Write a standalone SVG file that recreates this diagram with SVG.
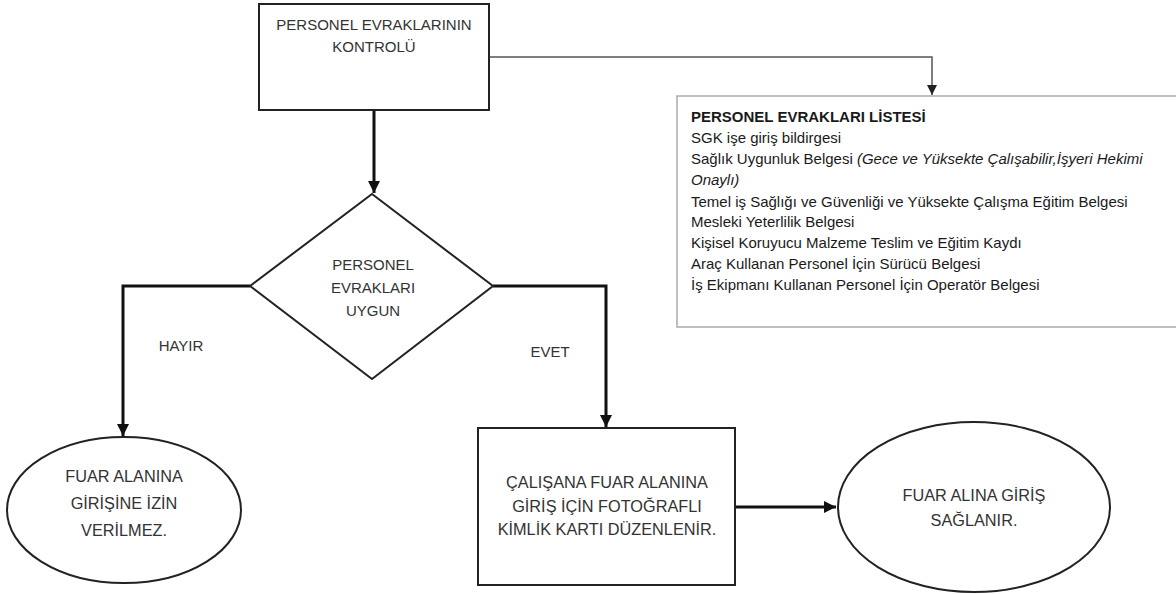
<svg xmlns="http://www.w3.org/2000/svg" width="1176" height="594" viewBox="0 0 1176 594">
<defs>
<marker id="ah" viewBox="0 0 10 10" refX="10" refY="5" markerWidth="4" markerHeight="4" orient="auto" markerUnits="strokeWidth"><path d="M0,0 L10,5 L0,10 z" fill="#111"/></marker>
<marker id="ahs" viewBox="0 0 10 10" refX="10" refY="5" markerWidth="7" markerHeight="7" orient="auto" markerUnits="strokeWidth"><path d="M0,0 L10,5 L0,10 z" fill="#222"/></marker>
<style>
.shape{fill:#fff;stroke:#222;stroke-width:2}
.t{font-family:"Liberation Sans",Arial,sans-serif;font-size:15px;fill:#333;text-anchor:middle}
.b{font-size:16.3px}
.l{font-family:"Liberation Sans",Arial,sans-serif;font-size:15px;fill:#1a1a1a}
.c{fill:none;stroke:#111;stroke-width:3}
.cs{fill:none;stroke:#555;stroke-width:1.5}
</style>
</defs>
<rect width="1176" height="594" fill="#fff"/>
<g id="connectors">
<path class="cs" d="M489,57 H932 V95" marker-end="url(#ahs)"/>
<path class="c" d="M374,110 V193" marker-end="url(#ah)"/>
<path class="c" d="M250,286 H123 V436" marker-end="url(#ah)"/>
<path class="c" d="M493,286 H606 V427" marker-end="url(#ah)"/>
<path class="c" d="M735,507 H836" marker-end="url(#ah)"/>
</g>
<g id="n-kontrol">
<rect class="shape" x="259" y="4" width="230" height="106"/>
<text class="t" x="374" y="30">PERSONEL EVRAKLARININ</text>
<text class="t" x="374" y="52">KONTROLÜ</text>
</g>
<g id="n-liste">
<rect x="677" y="96" width="510" height="231" fill="#fff" stroke="#aaa" stroke-width="1.5"/>
<text class="l" x="691" y="122" font-weight="bold" font-size="14.8">PERSONEL EVRAKLARI LİSTESİ</text>
<text class="l" x="691" y="143">SGK işe giriş bildirgesi</text>
<text class="l" x="691" y="164">Sağlık Uygunluk Belgesi <tspan font-style="italic">(Gece ve Yüksekte Çalışabilir,İşyeri Hekimi</tspan></text>
<text class="l" x="691" y="185" font-style="italic">Onaylı)</text>
<text class="l" x="691" y="207">Temel iş Sağlığı ve Güvenliği ve Yüksekte Çalışma Eğitim Belgesi</text>
<text class="l" x="691" y="227">Mesleki Yeterlilik Belgesi</text>
<text class="l" x="691" y="248">Kişisel Koruyucu Malzeme Teslim ve Eğitim Kaydı</text>
<text class="l" x="691" y="269">Araç Kullanan Personel İçin Sürücü Belgesi</text>
<text class="l" x="691" y="290">İş Ekipmanı Kullanan Personel İçin Operatör Belgesi</text>
</g>
<g id="n-karar">
<polygon class="shape" points="372,194 493,286 372,379 250,286"/>
<text class="t" x="373" y="270" font-size="14.5">PERSONEL</text>
<text class="t" x="373" y="293" font-size="14.5">EVRAKLARI</text>
<text class="t" x="373" y="316" font-size="14.5">UYGUN</text>
</g>
<g id="lbl-hayir"><text class="t" x="181" y="351">HAYIR</text></g>
<g id="lbl-evet"><text class="t" x="550" y="357">EVET</text></g>
<g id="n-red">
<ellipse class="shape" cx="124" cy="510" rx="117" ry="73"/>
<text class="t b" x="124" y="482">FUAR ALANINA</text>
<text class="t b" x="124" y="509">GİRİŞİNE İZİN</text>
<text class="t b" x="124" y="536">VERİLMEZ.</text>
</g>
<g id="n-kart">
<rect class="shape" x="478" y="428" width="257" height="157"/>
<text class="t b" x="607" y="488">ÇALIŞANA FUAR ALANINA</text>
<text class="t b" x="607" y="512">GİRİŞ İÇİN FOTOĞRAFLI</text>
<text class="t b" x="607" y="535">KİMLİK KARTI DÜZENLENİR.</text>
</g>
<g id="n-giris">
<ellipse class="shape" cx="974" cy="507" rx="136" ry="85"/>
<text class="t b" x="974" y="501">FUAR ALINA GİRİŞ</text>
<text class="t b" x="974" y="526">SAĞLANIR.</text>
</g>
</svg>
